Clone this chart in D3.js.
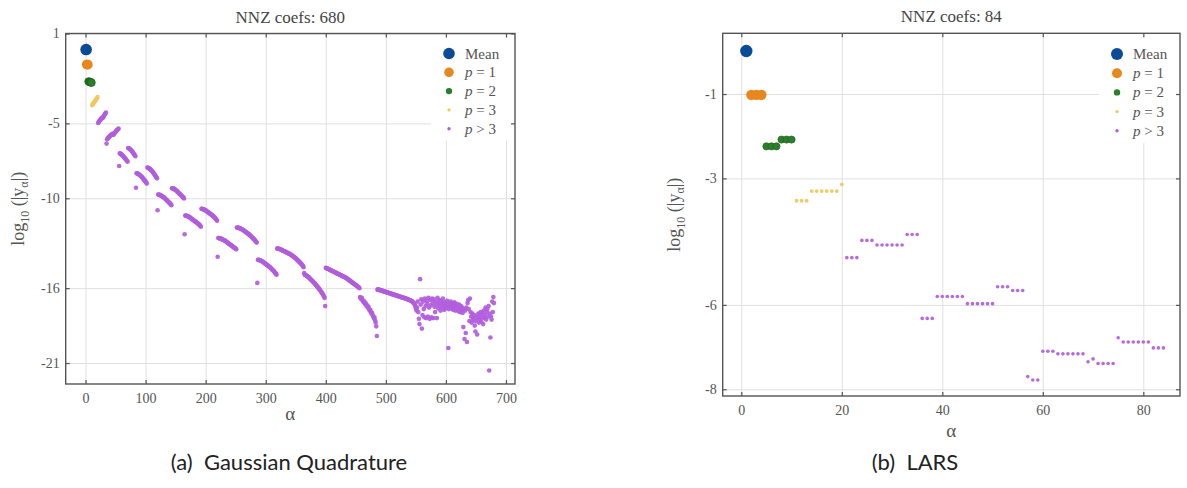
<!DOCTYPE html>
<html><head><meta charset="utf-8">
<script src="https://cdn.jsdelivr.net/npm/d3@7"></script>
<style>
body{margin:0;background:#fff;}
svg{display:block;}
</style></head>
<body>
<svg id="chart" width="1187" height="488"></svg>
<script>
// ---------- DATA ----------
// Panel (a) Gaussian Quadrature : log10(|y_alpha|), alpha = 1..680 in order
const gqMean = [-0.07];
const gqP1 = [-1.07, -1.07, -1.08];
const gqP2 = [-2.20, -2.22, -2.23, -2.25, -2.26, -2.28];
const gqP3 = [-3.79, -3.71, -3.68, -3.60, -3.57, -3.49, -3.45, -3.37, -3.33, -3.24];
const gqDeg4 = [-4.98,-4.91,-4.85,-4.79,-4.74,-4.70,-4.65,-4.61,-4.63,-4.55,-4.48,-4.40,-4.34,-4.27,-6.35];
const gqDeg5 = [-6.06,-6.00,-5.96,-5.92,-5.87,-5.83,-5.80,-5.76,-5.73,-5.69,-5.78,-5.72,-5.66,-5.61,-5.56,-5.52,-5.47,-5.43,-5.39,-5.35,-7.85];
const gqDeg6 = [-7.00,-7.02,-7.05,-7.08,-7.12,-7.16,-7.20,-7.25,-7.30,-7.35,-7.40,-7.45,-7.50,-7.56,
  -6.64,-6.66,-6.69,-6.72,-6.76,-6.80,-6.85,-6.90,-6.95,-7.01,-7.07,-7.13,-7.20,-9.30];
const gqDeg7 = [-8.33,-8.34,-8.36,-8.38,-8.41,-8.44,-8.47,-8.51,-8.55,-8.59,-8.64,-8.69,-8.74,-8.79,-8.84,-8.89,-8.95,-9.02,
  -7.95,-7.96,-7.98,-8.01,-8.04,-8.07,-8.11,-8.15,-8.20,-8.25,-8.30,-8.36,-8.42,-8.48,-8.54,-8.60,-8.67,-10.80];
const gqDeg8 = [-9.75,-9.76,-9.77,-9.79,-9.81,-9.83,-9.85,-9.88,-9.91,-9.94,-9.97,-10.00,-10.04,-10.08,-10.12,-10.16,-10.20,-10.24,-10.28,-10.32,-10.36,-10.41,-10.46,
  -9.33,-9.34,-9.35,-9.37,-9.39,-9.42,-9.45,-9.48,-9.52,-9.56,-9.60,-9.64,-9.68,-9.72,-9.76,-9.80,-9.84,-9.88,-9.92,-9.96,-10.01,-12.40];
const gqDeg9 = [-11.15,-11.16,-11.17,-11.18,-11.20,-11.22,-11.24,-11.26,-11.29,-11.32,-11.35,-11.38,-11.41,-11.44,-11.47,-11.50,-11.53,-11.56,-11.59,-11.62,-11.65,-11.68,-11.71,-11.75,-11.79,-11.84,-11.90,
  -10.70,-10.71,-10.72,-10.73,-10.75,-10.77,-10.79,-10.81,-10.84,-10.87,-10.90,-10.93,-10.96,-10.99,-11.02,-11.05,-11.08,-11.11,-11.14,-11.17,-11.21,-11.25,-11.29,-11.33,-11.38,-11.44,-11.50,-13.90];
const gqDeg10 = [-12.65,-12.66,-12.67,-12.68,-12.69,-12.71,-12.73,-12.75,-12.77,-12.79,-12.81,-12.83,-12.86,-12.89,-12.92,-12.95,-12.98,-13.01,-13.04,-13.07,-13.10,-13.13,-13.16,-13.19,-13.22,-13.25,-13.28,-13.31,-13.34,-13.37,-13.41,
  -11.95,-11.96,-11.97,-11.98,-11.99,-12.01,-12.03,-12.05,-12.07,-12.09,-12.11,-12.14,-12.17,-12.20,-12.23,-12.26,-12.29,-12.32,-12.35,-12.38,-12.41,-12.44,-12.48,-12.52,-12.56,-12.60,-12.64,-12.68,-12.72,-12.76,-12.80,-12.85,-12.90,-12.96,-15.65];
const gqDeg11 = [-14.10,-14.11,-14.12,-14.13,-14.15,-14.17,-14.19,-14.21,-14.24,-14.27,-14.30,-14.33,-14.36,-14.39,-14.42,-14.45,-14.48,-14.51,-14.54,-14.57,-14.61,-14.65,-14.69,-14.73,-14.77,-14.81,-14.85,-14.89,-14.94,-14.99,-15.04,-15.10,
  -13.35,-13.36,-13.37,-13.38,-13.39,-13.40,-13.42,-13.44,-13.46,-13.48,-13.50,-13.52,-13.54,-13.56,-13.58,-13.60,-13.62,-13.64,-13.66,-13.68,-13.70,-13.72,-13.74,-13.77,-13.80,-13.83,-13.86,-13.89,-13.92,-13.95,-13.98,-14.01,-14.05,-14.09,-14.13,-14.17,-14.21,-14.25,-14.29,-14.33,-14.37,-14.42,-14.47,-14.53,-14.60,-15.00];
const gqDeg12 = [-15.10,-15.12,-15.14,-15.17,-15.20,-15.23,-15.26,-15.30,-15.34,-15.38,-15.42,-15.46,-15.50,-15.54,-15.58,-15.62,-15.66,-15.70,-15.75,-15.80,-15.85,-15.90,-15.95,-16.00,-16.05,-16.10,-16.16,-16.22,-16.28,-16.34,-16.41,-16.48,-16.56,-16.65,
  -17.20,
  -14.65,-14.66,-14.68,-14.70,-14.72,-14.74,-14.76,-14.78,-14.80,-14.82,-14.84,-14.86,-14.88,-14.90,-14.92,-14.94,-14.96,-14.98,-15.00,-15.02,-15.04,-15.06,-15.08,-15.10,-15.12,-15.14,-15.16,-15.18,-15.20,-15.22,-15.24,-15.26,-15.28,-15.30,-15.32,-15.35,-15.38,-15.41,-15.44,-15.47,-15.50,-15.53,-15.56,-15.59,-15.62,-15.65,-15.68,-15.71,-15.74,-15.77,-15.80,-15.83,-15.86,-15.89,-15.92,-15.96,-16.00];
const gqDeg13 = [-16.60,-16.68,-16.72,-16.65,-16.80,-16.90,-16.85,-16.95,-17.05,-16.98,-17.10,-17.20,-17.15,-17.30,-17.25,-17.40,-17.50,-17.45,-17.60,-17.70,-17.65,-17.80,-17.90,-18.00,-17.95,-18.15,-18.30,-18.55,
  -19.20,
  -16.10,-16.08,-16.12,-16.10,-16.14,-16.12,-16.16,-16.15,-16.18,-16.20,
  -16.19,-16.22,-16.24,-16.23,-16.26,-16.28,-16.27,-16.30,-16.32,-16.31,
  -16.34,-16.36,-16.35,-16.38,-16.40,-16.39,-16.42,-16.44,-16.43,-16.46,
  -16.48,-16.47,-16.50,-16.52,-16.51,-16.54,-16.56,-16.55,-16.58,-16.60,
  -16.59,-16.62,-16.64,-16.63,-16.66,-16.68,-16.67,-16.70,-16.72,-16.71,
  -16.74,-16.76,-16.78,-16.80,-16.79,-16.83,-16.86,-16.85,-16.90,-16.94,
  -16.98,-17.02,-17.10,-17.20,-17.35,-17.50];
const gqTail = [-17.30,-16.90,-17.60,-18.05,-18.40,-15.40,-17.10,-16.75,-18.70,-17.80,
  -16.90,-17.40,-17.95,-16.70,-17.20,-18.00,-16.85,-17.05,-17.90,-16.65,
  -17.30,-18.05,-16.80,-17.15,-17.95,-16.70,-17.00,-18.00,-16.75,-17.25,
  -17.60,-16.90,-17.10,-18.00,-16.65,-17.35,-17.00,-16.80,-17.20,-17.50,
  -16.90,-17.00,-17.30,-16.70,-17.15,-17.45,-16.95,-17.05,-17.35,-17.10,
  -16.85,-17.25,-20.00,-17.40,-17.00,-17.20,-16.90,-17.35,-17.10,-17.00,
  -17.45,-17.20,-16.95,-17.30,-17.50,-17.15,-17.05,-17.40,-17.25,-17.55,
  -17.10,-17.35,-17.60,-17.20,-17.45,-17.30,-17.65,-18.60,-17.40,-19.40,
  -17.50,-19.00,-17.30,-19.60,-17.00,-16.80,-17.40,-18.20,-16.70,-17.60,
  -17.90,-18.30,-17.70,-18.10,-18.00,-17.80,-18.50,-18.90,-18.20,-17.90,
  -19.10,-18.00,-17.70,-18.30,-17.85,-18.10,-17.60,-18.25,-17.95,-17.70,
  -18.40,-17.50,-18.00,-17.80,-17.30,-18.10,-17.60,-17.40,-17.90,-17.20,
  -21.50,-17.70,-19.30,-17.90,-18.10,-16.90,-17.60,-16.60,-17.00];
const gqHigh = [].concat(gqDeg4, gqDeg5, gqDeg6, gqDeg7, gqDeg8, gqDeg9, gqDeg10, gqDeg11, gqDeg12, gqDeg13, gqTail);

// Panel (b) LARS : log10(|y_alpha|), alpha = 1..84 in order
const larsMean = [0.02];
const larsP1 = [-1.02, -1.02, -1.02];
const larsP2 = [-2.24, -2.24, -2.24, -2.08, -2.08, -2.08];
const larsP3 = [-3.53, -3.53, -3.53, -3.30, -3.30, -3.30, -3.30, -3.30, -3.30, -3.14];
const larsHigh = [-4.88,-4.88,-4.88, -4.47,-4.47,-4.47, -4.58,-4.58,-4.58,-4.58,-4.58,-4.58, -4.33,-4.33,-4.33,
  -6.32,-6.32,-6.32, -5.80,-5.80,-5.80,-5.80,-5.80,-5.80, -5.97,-5.97,-5.97,-5.97,-5.97,-5.97,
  -5.57,-5.57,-5.57, -5.66,-5.66,-5.66, -7.70, -7.78,-7.78,
  -7.10,-7.10,-7.10,-7.16,-7.16,-7.16,-7.16,-7.16,-7.16, -7.35, -7.28, -7.39,-7.39,-7.39,-7.39,
  -6.78, -6.88,-6.88,-6.88,-6.88,-6.88,-6.88, -7.02,-7.02,-7.02];

const seriesNames = ["Mean", "p = 1", "p = 2", "p = 3", "p > 3"];
const gqXTicks = [0,100,200,300,400,500,600,700];
const gqYTicks = [1,-5,-10,-16,-21];
const larsXTicks = [0,20,40,60,80];
const larsYTicks = [-1,-3,-6,-8];

// ---------- STYLE ----------
const colors = ["#0b4a96", "#e8871e", "#2a7f2a", "#f1c75a", "#b15ddc"];
const serif = "'Liberation Serif','DejaVu Serif',serif";

const svg = d3.select("#chart");

function toPoints(groups) {
  let a = 1; const out = [];
  groups.forEach((vals, gi) => vals.forEach(v => { out.push({a: a++, v, g: gi}); }));
  return out;
}

function panel(cfg) {
  const x = d3.scaleLinear().domain(cfg.xDom).range([cfg.left, cfg.right]);
  const y = d3.scaleLinear().domain(cfg.yDom).range([cfg.bottom, cfg.top]);
  const g = svg.append("g");
  const W = cfg.right - cfg.left, H = cfg.bottom - cfg.top;

  // grid
  g.append("g").attr("transform", `translate(0,${cfg.bottom})`)
    .call(d3.axisBottom(x).tickValues(cfg.xTicks).tickSize(-H).tickFormat(""))
    .call(s => { s.select(".domain").remove(); s.selectAll("line").attr("stroke", "#e0e0e0").attr("stroke-width", 1); });
  g.append("g").attr("transform", `translate(${cfg.left},0)`)
    .call(d3.axisLeft(y).tickValues(cfg.yTicks).tickSize(-W).tickFormat(""))
    .call(s => { s.select(".domain").remove(); s.selectAll("line").attr("stroke", "#e0e0e0").attr("stroke-width", 1); });

  // legend background (hides grid)
  g.append("rect").attr("x", cfg.legX - 18).attr("y", cfg.top + 4)
    .attr("width", cfg.right - cfg.legX + 16).attr("height", cfg.legY0 - cfg.top + cfg.legDy * 4 + 8)
    .attr("fill", "#fff");

  // data
  const pts = toPoints(cfg.groups);
  const order = [4,3,2,1,0];
  order.forEach(gi => {
    g.append("g").selectAll("circle").data(pts.filter(p => p.g === gi)).join("circle")
      .attr("cx", d => x(d.a)).attr("cy", d => y(d.v))
      .attr("r", cfg.radii[gi]).attr("fill", colors[gi])
      .attr("stroke", gi === 2 ? "#1d5e1d" : "none").attr("stroke-width", gi === 2 ? 0.6 : 0)
      .attr("opacity", gi >= 3 ? 0.92 : 1);
  });

  // frame
  g.append("rect").attr("x", cfg.left).attr("y", cfg.top).attr("width", W).attr("height", H)
    .attr("fill", "none").attr("stroke", "#555").attr("stroke-width", 1.4);

  // axes with inward ticks
  const axStyle = s => {
    s.select(".domain").remove();
    s.selectAll("line").attr("stroke", "#555").attr("stroke-width", 1.2);
    s.selectAll("text").attr("font-family", serif).attr("font-size", 14).attr("fill", "#555");
  };
  g.append("g").attr("transform", `translate(0,${cfg.bottom})`)
    .call(d3.axisBottom(x).tickValues(cfg.xTicks).tickSize(-4).tickPadding(9).tickFormat(d3.format("d"))).call(axStyle);
  g.append("g").attr("transform", `translate(0,${cfg.top})`)
    .call(d3.axisTop(x).tickValues(cfg.xTicks).tickSize(-4).tickFormat("")).call(axStyle);
  g.append("g").attr("transform", `translate(${cfg.left},0)`)
    .call(d3.axisLeft(y).tickValues(cfg.yTicks).tickSize(-4).tickPadding(6).tickFormat(d => String(d).replace("−","-"))).call(axStyle);
  g.append("g").attr("transform", `translate(${cfg.right},0)`)
    .call(d3.axisRight(y).tickValues(cfg.yTicks).tickSize(-4).tickFormat("")).call(axStyle);

  // title
  g.append("text").attr("x", (cfg.left + cfg.right) / 2).attr("y", cfg.top - 11)
    .attr("text-anchor", "middle").attr("font-family", serif).attr("font-size", 17).attr("fill", "#444")
    .text(cfg.title);
  // x label
  g.append("text").attr("x", (cfg.left + cfg.right) / 2).attr("y", cfg.xLabY)
    .attr("text-anchor", "middle").attr("font-family", serif).attr("font-size", 19).attr("fill", "#555")
    .text("α");
  // y label
  const yl = g.append("text").attr("transform", `translate(${cfg.yLabX},${(cfg.top + cfg.bottom) / 2}) rotate(-90)`)
    .attr("text-anchor", "middle").attr("font-family", serif).attr("font-size", 18).attr("fill", "#555");
  yl.append("tspan").text("log");
  yl.append("tspan").attr("dy", 5).attr("font-size", 12).text("10");
  yl.append("tspan").attr("dy", -5).text(" (|y");
  yl.append("tspan").attr("dy", 4).attr("font-size", 12).text("α");
  yl.append("tspan").attr("dy", -4).text("|)");

  // legend
  seriesNames.forEach((nm, i) => {
    const yy = cfg.legY0 + i * cfg.legDy;
    g.append("circle").attr("cx", cfg.legX).attr("cy", yy).attr("r", cfg.legR[i]).attr("fill", colors[i]);
    const t = g.append("text").attr("x", cfg.legX + 16).attr("y", yy + 5)
      .attr("font-family", serif).attr("font-size", 15).attr("fill", "#555");
    if (i === 0) t.text(nm);
    else { t.append("tspan").attr("font-style", "italic").text("p"); t.append("tspan").text(nm.slice(1)); }
  });

  // caption
  svg.append("text").attr("x", cfg.capX).attr("y", 470).attr("text-anchor", "middle")
    .attr("font-family", "Lato, 'Open Sans', sans-serif").attr("font-size", 22).attr("fill", "#222")
    .attr("xml:space", "preserve").text(cfg.caption);
}

panel({
  left: 65.7, right: 515, top: 33.5, bottom: 384,
  xDom: [-33, 715], yDom: [-22.4, 1.0],
  xTicks: gqXTicks, yTicks: gqYTicks,
  groups: [gqMean, gqP1, gqP2, gqP3, gqHigh],
  radii: [5.8, 4.8, 3.8, 2.2, 2.3],
  legX: 449, legY0: 53.5, legDy: 18.8, legR: [5.8, 4.8, 3.2, 1.6, 1.7],
  title: "NNZ coefs: 680", xLabY: 420, yLabX: 24,
  caption: "(a)  Gaussian Quadrature", capX: 289
});

panel({
  left: 722.7, right: 1180, top: 33.3, bottom: 396,
  xDom: [-3.7, 87.3], yDom: [-8.16, 0.44],
  xTicks: larsXTicks, yTicks: larsYTicks,
  groups: [larsMean, larsP1, larsP2, larsP3, larsHigh],
  radii: [6.2, 5.2, 3.6, 1.9, 1.8],
  legX: 1117, legY0: 54, legDy: 19.2, legR: [6, 5, 3.2, 1.6, 1.7],
  title: "NNZ coefs: 84", xLabY: 437, yLabX: 680,
  caption: "(b)  LARS", capX: 915
});
</script>
</body></html>
